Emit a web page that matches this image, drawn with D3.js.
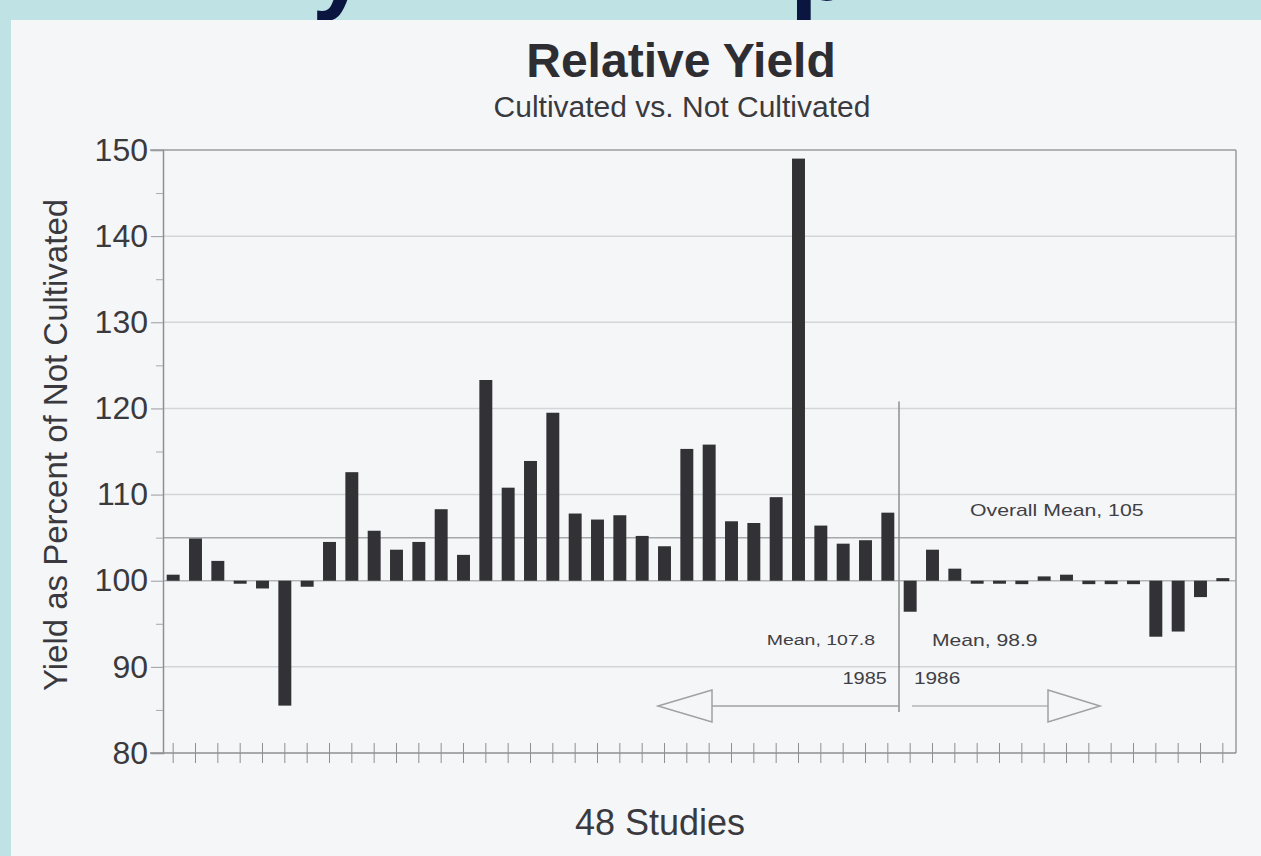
<!DOCTYPE html>
<html>
<head>
<meta charset="utf-8">
<script src="https://cdn.jsdelivr.net/npm/d3@7"></script>
<style>
  body { margin: 0; background: #bfe3e5; }
  svg { display: block; font-family: Arial, "Liberation Sans", sans-serif; }
</style>
</head>
<body>
<div id="chart"></div>
<script>
// relative yield, cultivated vs not cultivated, 48 studies
var studies = d3.range(1, 49);
var yieldPct = [100.7, 104.9, 102.3, 99.8, 99.1, 85.5, 99.3, 104.5, 112.6, 105.8,
                103.6, 104.5, 108.3, 103.0, 123.3, 110.8, 113.9, 119.5, 107.8, 107.1,
                107.6, 105.2, 104.0, 115.3, 115.8, 106.9, 106.7, 109.7, 149.0, 106.4,
                104.3, 104.7, 107.9, 96.4, 103.6, 101.4, 99.7, 99.7, 99.6, 100.5,
                100.7, 99.6, 99.6, 99.6, 93.5, 94.1, 98.1, 100.3];
var yTicks = [80, 90, 100, 110, 120, 130, 140, 150];
var minorTicks = [85, 95, 105, 115, 125, 135, 145];
var gridVals = [90, 110, 120, 130, 140];
var overallMean = 105;
var mean1985 = 107.8, mean1986 = 98.9;
var splitAfter = 33;   // studies 1-33 are 1985, 34-48 are 1986

var w = 1261, h = 856;
var ink = "#3a3a3e";

var svg = d3.select("#chart").append("svg")
    .attr("width", w)
    .attr("height", h);

// cut off slide title behind the scan (only descenders show)
svg.append("text").attr("x", 312).attr("y", 0)
    .attr("font-size", 100).attr("font-weight", "bold").attr("fill", "#0b1640")
    .text("y");
svg.append("text").attr("x", 790).attr("y", 0)
    .attr("font-size", 100).attr("font-weight", "bold").attr("fill", "#0b1640")
    .text("p");

// the scanned page
svg.append("rect")
    .attr("x", 11).attr("y", 20)
    .attr("width", w - 11).attr("height", h - 20)
    .attr("fill", "#f5f6f8");

var x = d3.scaleBand()
    .domain(studies)
    .range([162, 1234])
    .paddingInner(0.42)
    .paddingOuter(0.21);

var y = d3.scaleLinear()
    .domain([80, 150])
    .range([753, 150]);

// gridlines
svg.selectAll("line.grid")
    .data(gridVals)
    .enter()
    .append("line")
    .attr("class", "grid")
    .attr("x1", 163).attr("x2", 1236)
    .attr("y1", function(d) { return y(d); })
    .attr("y2", function(d) { return y(d); })
    .attr("stroke", "#d4d5d8")
    .attr("stroke-width", 1.5);

// 100 line and overall mean
svg.append("line")
    .attr("x1", 163).attr("x2", 1236)
    .attr("y1", y(100)).attr("y2", y(100))
    .attr("stroke", "#b4b5b8").attr("stroke-width", 1.5);
svg.append("line")
    .attr("x1", 163).attr("x2", 1236)
    .attr("y1", y(overallMean)).attr("y2", y(overallMean))
    .attr("stroke", "#a6a7aa").attr("stroke-width", 1.5);

// frame: top and right
svg.append("line").attr("x1", 150).attr("x2", 1236)
    .attr("y1", y(150)).attr("y2", y(150))
    .attr("stroke", "#9a9b9e").attr("stroke-width", 1.5);
svg.append("line").attr("x1", 1236).attr("x2", 1236)
    .attr("y1", y(150)).attr("y2", y(80))
    .attr("stroke", "#9a9b9e").attr("stroke-width", 1.5);

// bars from 100
svg.selectAll("rect.bar")
    .data(yieldPct)
    .enter()
    .append("rect")
    .attr("class", "bar")
    .attr("x", function(d, i) { return x(studies[i]); })
    .attr("width", x.bandwidth())
    .attr("y", function(d) { return y(Math.max(d, 100)); })
    .attr("height", function(d) { return Math.max(Math.abs(y(d) - y(100)), 3); })
    .attr("fill", "#323236");

// y axis
var yAxis = svg.append("g")
    .attr("transform", "translate(163,0)")
    .call(d3.axisLeft(y).tickValues(yTicks).tickSize(12).tickPadding(3));
yAxis.select(".domain").attr("stroke", "#8e8f92").attr("stroke-width", 1.5);
yAxis.selectAll(".tick line").attr("stroke", "#9a9b9e");
yAxis.selectAll(".tick text")
    .attr("font-size", 32).attr("fill", ink)
    .attr("font-family", "Arial, 'Liberation Sans', sans-serif");
svg.append("g")
    .attr("transform", "translate(163,0)")
    .call(d3.axisLeft(y).tickValues(minorTicks).tickSize(7).tickFormat(""))
    .call(function(g) { g.select(".domain").remove(); })
    .selectAll("line").attr("stroke", "#a8a9ac");

// x axis with cross ticks at bar centres
var xAxis = svg.append("g")
    .attr("transform", "translate(0," + y(80) + ")")
    .call(d3.axisBottom(x).tickSize(10).tickFormat(""));
xAxis.select(".domain").attr("d", "M150,0H1236").attr("stroke", "#8e8f92").attr("stroke-width", 1.5);
xAxis.selectAll(".tick line").attr("y1", -10).attr("stroke", "#8e8f92");

// titles
svg.append("text").attr("x", 681).attr("y", 77)
    .attr("text-anchor", "middle").attr("font-size", 48).attr("font-weight", "bold")
    .attr("fill", "#2e2e32").text("Relative Yield");
svg.append("text").attr("x", 682).attr("y", 117)
    .attr("text-anchor", "middle").attr("font-size", 30)
    .attr("fill", ink).text("Cultivated vs. Not Cultivated");
svg.append("text")
    .attr("transform", "translate(67,445) rotate(-90)")
    .attr("text-anchor", "middle").attr("font-size", 33)
    .attr("fill", ink).text("Yield as Percent of Not Cultivated");
svg.append("text").attr("x", 660).attr("y", 835)
    .attr("text-anchor", "middle").attr("font-size", 36)
    .attr("fill", ink).text("48 Studies");

// small notes, a bit wider than tall as in the scan
function note(tx, ty, size, sx, anchor, str) {
    svg.append("text")
        .attr("transform", "translate(" + tx + "," + ty + ") scale(" + sx + ",1)")
        .attr("text-anchor", anchor)
        .attr("font-size", size)
        .attr("fill", "#404044")
        .text(str);
}

// 1985 / 1986 split
var splitX = x(studies[splitAfter - 1]) + x.bandwidth() + (x.step() - x.bandwidth()) / 2;
svg.append("line")
    .attr("x1", splitX).attr("x2", splitX)
    .attr("y1", y(120.8)).attr("y2", 712)
    .attr("stroke", "#8e8f92").attr("stroke-width", 1.5);

note(970, 516, 17, 1.25, "start", "Overall Mean, " + overallMean);
note(splitX - 24, 645, 15, 1.3, "end", "Mean, " + mean1985);
note(splitX + 33, 646, 16, 1.32, "start", "Mean, " + mean1986);
note(splitX - 12, 684, 16, 1.25, "end", "1985");
note(splitX + 15, 684, 16, 1.3, "start", "1986");

// arrows
var arrowY = 706;
svg.append("line").attr("x1", 712).attr("x2", splitX)
    .attr("y1", arrowY).attr("y2", arrowY).attr("stroke", "#a0a1a4").attr("stroke-width", 1.5);
svg.append("path")
    .attr("d", "M712," + (arrowY - 16) + "L658," + arrowY + "L712," + (arrowY + 16) + "Z")
    .attr("fill", "#f5f6f8").attr("stroke", "#a0a1a4").attr("stroke-width", 1.5);
svg.append("line").attr("x1", splitX + 13).attr("x2", 1048)
    .attr("y1", arrowY).attr("y2", arrowY).attr("stroke", "#b4b5b8").attr("stroke-width", 1.5);
svg.append("path")
    .attr("d", "M1048," + (arrowY - 16) + "L1100," + arrowY + "L1048," + (arrowY + 16) + "Z")
    .attr("fill", "#f5f6f8").attr("stroke", "#a0a1a4").attr("stroke-width", 1.5);
</script>
</body>
</html>
